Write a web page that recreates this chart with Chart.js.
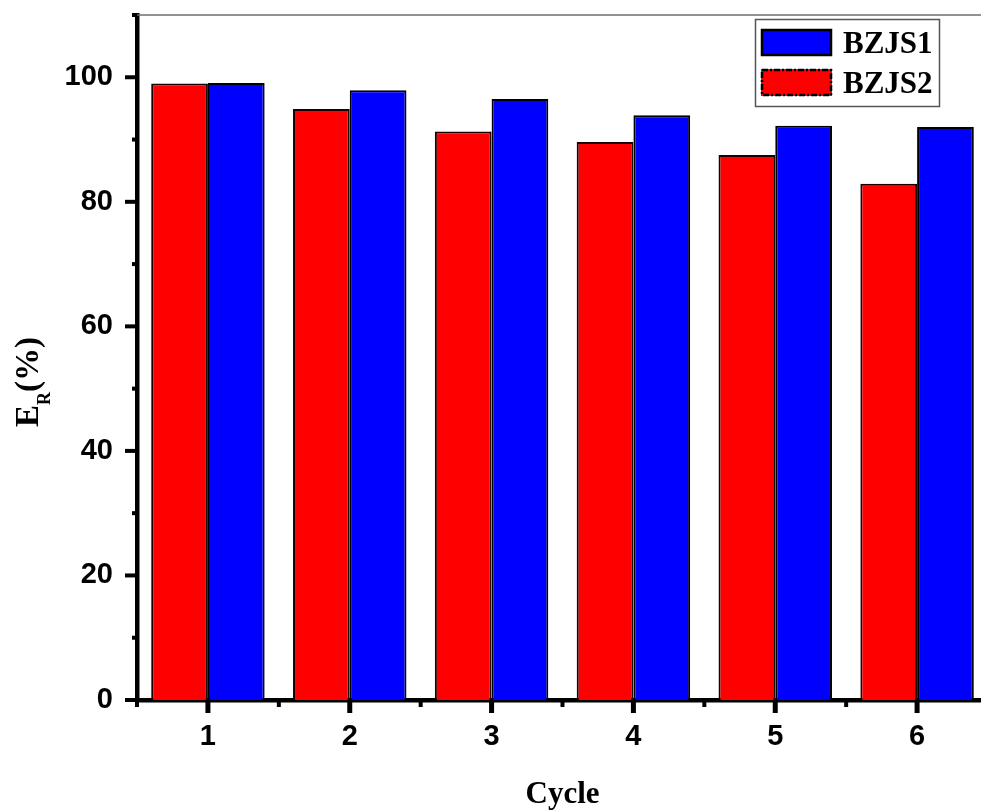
<!DOCTYPE html>
<html>
<head>
<meta charset="utf-8">
<script src="https://cdn.jsdelivr.net/npm/chart.js@4"></script>
<style>
  html, body { margin: 0; padding: 0; background: #fff; overflow: hidden; }
  canvas { display: block; }
</style>
</head>
<body>
<canvas id="chart" width="1000" height="812"></canvas>
<script>
const CYCLES = ['1', '2', '3', '4', '5', '6'];
const BZJS1 = [99.1, 97.9, 96.5, 93.9, 92.2, 92.0];
const BZJS2 = [99.0, 94.9, 91.3, 89.6, 87.5, 82.9];
const Y_TICKS = [0, 10, 20, 30, 40, 50, 60, 70, 80, 90, 100, 110];

const SANS = '"Liberation Sans", Arial, sans-serif';
const SERIF = '"Liberation Serif", "Times New Roman", serif';

// tick marks (major + minor), top frame line, legend box and axis titles
const decorations = {
  id: 'decorations',
  afterDraw(chart) {
    const { ctx, chartArea: area, scales } = chart;
    const x = scales.x, y = scales.y;
    ctx.save();
    ctx.strokeStyle = '#000';

    // y ticks
    ctx.lineWidth = 4;
    Y_TICKS.forEach(v => {
      const py = y.getPixelForValue(v);
      const len = v % 20 === 0 ? 12 : 5;
      ctx.beginPath();
      ctx.moveTo(area.left - len, py);
      ctx.lineTo(area.left, py);
      ctx.stroke();
    });

    // x ticks
    const step = x.getPixelForValue(1) - x.getPixelForValue(0);
    ctx.lineWidth = 5;
    CYCLES.forEach((c, i) => {
      const px = x.getPixelForValue(i);
      ctx.beginPath();
      ctx.moveTo(px, area.bottom);
      ctx.lineTo(px, area.bottom + 13);
      ctx.stroke();
    });
    ctx.lineWidth = 4;
    for (let i = 0; i <= CYCLES.length; i++) {
      const px = x.getPixelForValue(i) - step / 2;
      ctx.beginPath();
      ctx.moveTo(px, area.bottom);
      ctx.lineTo(px, area.bottom + 7);
      ctx.stroke();
    }

    // thin top frame
    ctx.strokeStyle = '#6e6e6e';
    ctx.lineWidth = 1.5;
    ctx.beginPath();
    ctx.moveTo(area.left, area.top);
    ctx.lineTo(area.right, area.top);
    ctx.stroke();

    // legend
    ctx.strokeStyle = '#555';
    ctx.lineWidth = 1.5;
    ctx.strokeRect(755.5, 19.5, 184, 87);
    const items = chart.data.datasets.slice().reverse();
    ctx.font = 'bold 31px ' + SERIF;
    ctx.textAlign = 'left';
    ctx.textBaseline = 'alphabetic';
    items.forEach((ds, i) => {
      const top = 29 + i * 40;
      ctx.fillStyle = ds.backgroundColor;
      ctx.fillRect(761, top, 71, 27);
      ctx.strokeStyle = '#000';
      ctx.lineWidth = 2.5;
      ctx.setLineDash(i === 1 ? [6, 2, 2, 2] : []);
      ctx.strokeRect(762, top + 1, 69, 25);
      ctx.setLineDash([]);
      ctx.fillStyle = '#000';
      ctx.fillText(ds.label, 843, top + 24);
    });

    // x title
    ctx.font = 'bold 31px ' + SERIF;
    ctx.textAlign = 'center';
    ctx.fillText('Cycle', (area.left + area.right) / 2, 803);

    // y title with subscript
    ctx.translate(38, 427);
    ctx.rotate(-Math.PI / 2);
    ctx.textAlign = 'left';
    ctx.font = 'bold 33px ' + SERIF;
    ctx.fillText('E', 0, 0);
    const wE = ctx.measureText('E').width;
    ctx.font = 'bold 18px ' + SERIF;
    ctx.fillText('R', wE, 12);
    const wR = ctx.measureText('R').width;
    ctx.font = 'bold 33px ' + SERIF;
    ctx.fillText('(%)', wE + wR, 0);
    ctx.restore();
  }
};

new Chart(document.getElementById('chart'), {
  type: 'bar',
  data: {
    labels: CYCLES,
    datasets: [
      {
        label: 'BZJS2',
        data: BZJS2,
        backgroundColor: '#ff0000',
        borderColor: '#1a0000',
        borderWidth: 2,
        categoryPercentage: 0.8,
        barPercentage: 1.0
      },
      {
        label: 'BZJS1',
        data: BZJS1,
        backgroundColor: '#0000ff',
        borderColor: '#000',
        borderWidth: 2,
        categoryPercentage: 0.8,
        barPercentage: 1.0
      }
    ]
  },
  options: {
    responsive: false,
    animation: false,
    devicePixelRatio: 1,
    layout: { padding: { left: 0, top: 15, right: 12, bottom: 0 } },
    plugins: {
      legend: { display: false },
      tooltip: { enabled: false }
    },
    scales: {
      x: {
        afterFit: s => {
          s.height = 112;
          s.paddingLeft = 0;
          s.paddingRight = 0;
        },
        grid: { display: false, drawTicks: false },
        border: { display: true, color: '#000', width: 4.5 },
        ticks: {
          padding: 20,
          color: '#000',
          font: { family: SANS, size: 29, weight: 'bold' }
        }
      },
      y: {
        min: 0,
        max: 110,
        afterFit: s => {
          s.width = 137;
          s.paddingTop = 0;
          s.paddingBottom = 0;
        },
        afterBuildTicks: s => { s.ticks = Y_TICKS.map(v => ({ value: v })); },
        grid: { display: false, drawTicks: false },
        border: { display: true, color: '#000', width: 4.5 },
        ticks: {
          padding: 24,
          color: '#000',
          font: { family: SANS, size: 29, weight: 'bold' },
          callback: v => (v % 20 === 0 && v <= 100 ? v : '')
        }
      }
    }
  },
  plugins: [decorations]
});
</script>
</body>
</html>
